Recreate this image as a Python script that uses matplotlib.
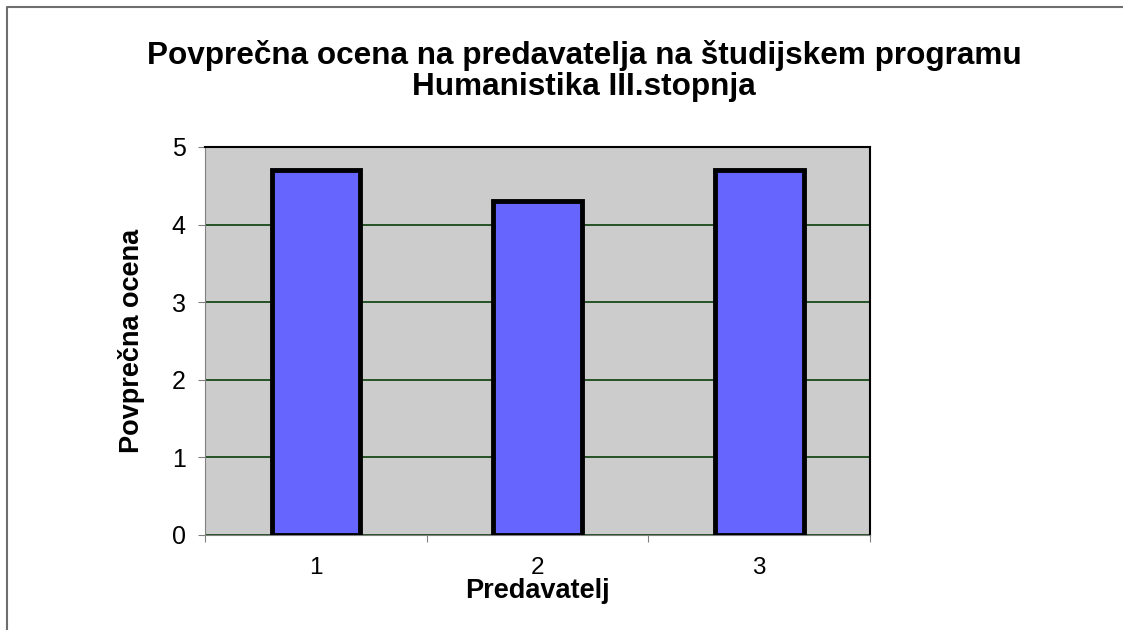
"""
Povprecna ocena na predavatelja - bar chart
"""
import numpy as np
import matplotlib
matplotlib.use('Agg')
from matplotlib import pyplot as plt
from matplotlib.lines import Line2D

categories = ['1', '2', '3']
values = [4.7, 4.3, 4.7]
y_ticks = [0, 1, 2, 3, 4, 5]

plt.rcParams['font.family'] = ['Liberation Sans', 'DejaVu Sans']

fig = plt.figure(figsize=(11.23, 6.3), dpi=100)
# outer frame (gray, only left and top visible)
x0, y0 = 6.5 / 1123, 1 - 6.5 / 630
fig.lines.append(Line2D([x0, x0, 1.0], [0.0, y0, y0], transform=fig.transFigure,
                        color='#6e6e6e', linewidth=1.5))

ax = fig.add_axes([205 / 1123, 1 - 535 / 630, 665 / 1123, 388 / 630])
ax.set_facecolor('#cccccc')

x = np.arange(len(categories))
ax.bar(x, values, width=0.4, color='#6666ff', edgecolor='black',
       linewidth=3.5, zorder=3)

ax.set_xlim(-0.5, len(categories) - 0.5)
ax.set_ylim(0, 5)
ax.set_yticks(y_ticks)
ax.set_yticklabels([str(t) for t in y_ticks], fontsize=18)
ax.yaxis.grid(True, color='#0a3d0a', linewidth=1.2, zorder=1)
ax.set_axisbelow(True)

# category labels in the middle, tick marks between categories
ax.set_xticks(np.arange(-0.5, len(categories), 1.0))
ax.set_xticklabels([])
ax.set_xticks(x, minor=True)
ax.set_xticklabels(categories, minor=True, fontsize=17.5)
ax.tick_params(axis='x', which='minor', length=0, pad=16)
ax.tick_params(axis='x', which='major', length=5, color='#808080')
ax.tick_params(axis='y', length=5, color='#808080', pad=9)

for s in ['left', 'bottom']:
    ax.spines[s].set_color('#808080')
for s in ['top', 'right']:
    ax.spines[s].set_color('black')
    ax.spines[s].set_linewidth(1.5)

ax.set_xlabel('Predavatelj', fontsize=19.5, fontweight='bold', labelpad=-1)
ax.set_ylabel('Povprečna ocena', fontsize=19.5, fontweight='bold', labelpad=19)

fig.text(584 / 1123, 1 - 71 / 630,
         'Povprečna ocena na predavatelja na študijskem programu\nHumanistika III.stopnja',
         ha='center', va='center', fontsize=22.7, fontweight='bold', linespacing=1.05)

fig.savefig('out.png', dpi=100)
